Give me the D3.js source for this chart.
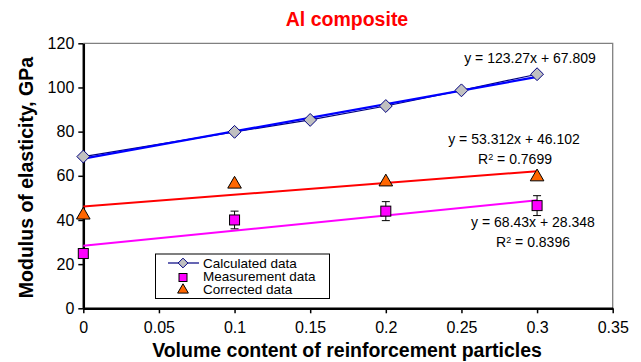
<!DOCTYPE html>
<html>
<head>
<meta charset="utf-8">
<script src="https://cdn.jsdelivr.net/npm/d3@7"></script>
<style>
  body { margin: 0; background: #fff; }
  text { font-family: Arial, "Liberation Sans", sans-serif; }
</style>
</head>
<body>
<div id="chart-area"></div>
<script>
// data
var fractions = [0, 0.1, 0.15, 0.2, 0.25, 0.3];
var calculated = [68.7, 79.9, 85.3, 91.6, 98.7, 106.0];

var measFractions = [0, 0.1, 0.2, 0.3];
var measured = [24.8, 40.0, 44.0, 46.5];
var measError = [2.0, 4.0, 4.3, 4.5];

var corrected = [42.2, 56.2, 57.2, 59.5];

var xTicks = [0, 0.05, 0.1, 0.15, 0.2, 0.25, 0.3, 0.35];
var yTicks = [0, 20, 40, 60, 80, 100, 120];

// trendlines: [slope, intercept]
var trendCalc = [123.27, 67.809];
var trendCorr = [53.312, 46.102];
var trendMeas = [68.43, 28.348];

var W = 641, H = 362;
var margin = {left: 83.3, right: 28.3, top: 43.3, bottom: 53.7};
var width = W - margin.left - margin.right;
var height = H - margin.top - margin.bottom;

var svg = d3.select("#chart-area").append("svg")
    .attr("width", W)
    .attr("height", H);

var g = svg.append("g")
    .attr("transform", "translate(" + margin.left + "," + margin.top + ")");

var x = d3.scaleLinear().domain([0, 0.35]).range([0, width]);
var y = d3.scaleLinear().domain([0, 120]).range([height, 0]);

// frame (top and right in grey)
g.append("path")
  .attr("d", "M0,0H" + width + "V" + height)
  .attr("fill", "none")
  .attr("stroke", "#808080")
  .attr("stroke-width", 1.3);

// X axis
var xAxis = g.append("g")
  .attr("transform", "translate(0," + height + ")")
  .call(d3.axisBottom(x).tickValues(xTicks).tickSize(5).tickSizeOuter(0)
    .tickFormat(d => d3.format("")(+d.toFixed(2))));
xAxis.select(".domain").attr("stroke-width", 2.5);
xAxis.selectAll(".tick line").attr("stroke-width", 1.5);
xAxis.selectAll("text").attr("font-size", "16px").attr("fill", "#000").attr("dy", "1.05em")
  .attr("font-family", "Arial, 'Liberation Sans', sans-serif");

// Y axis
var yAxis = g.append("g")
  .call(d3.axisLeft(y).tickValues(yTicks).tickSize(5).tickSizeOuter(0));
yAxis.select(".domain").attr("stroke-width", 2.5);
yAxis.selectAll(".tick line").attr("stroke-width", 1.5);
yAxis.selectAll("text").attr("font-size", "16px").attr("fill", "#000").attr("x", -9)
  .attr("font-family", "Arial, 'Liberation Sans', sans-serif");

// trendlines
function trend(t, color, w) {
  g.append("line")
    .attr("x1", x(0)).attr("y1", y(t[1]))
    .attr("x2", x(0.3)).attr("y2", y(t[0] * 0.3 + t[1]))
    .attr("stroke", color)
    .attr("stroke-width", w);
}
trend(trendCorr, "#ff0000", 2);
trend(trendMeas, "#ff00ff", 2);

// calculated data line
var line = d3.line()
  .x((d, i) => x(fractions[i]))
  .y(d => y(d));

g.append("path")
  .datum(calculated)
  .attr("d", line)
  .attr("fill", "none")
  .attr("stroke", "#000080")
  .attr("stroke-width", 1.2);

trend(trendCalc, "#0000ff", 2.2);

// diamonds
var diamond = d3.symbol().type(d3.symbolDiamond2).size(105);
g.selectAll(".calc")
  .data(calculated)
  .enter().append("path")
    .attr("class", "calc")
    .attr("d", diamond)
    .attr("transform", (d, i) => "translate(" + x(fractions[i]) + "," + y(d) + ")")
    .attr("fill", "#c0c0c0")
    .attr("stroke", "#000080")
    .attr("stroke-width", 1);

// error bars
var eb = g.selectAll(".err")
  .data(measured)
  .enter().append("g")
    .attr("class", "err");
eb.append("line")
  .attr("x1", (d, i) => x(measFractions[i]))
  .attr("x2", (d, i) => x(measFractions[i]))
  .attr("y1", (d, i) => y(d + measError[i]))
  .attr("y2", (d, i) => y(d - measError[i]))
  .attr("stroke", "#000").attr("stroke-width", 1);
[1, -1].forEach(s => {
  eb.append("line")
    .attr("x1", (d, i) => x(measFractions[i]) - 4)
    .attr("x2", (d, i) => x(measFractions[i]) + 4)
    .attr("y1", (d, i) => y(d + s * measError[i]))
    .attr("y2", (d, i) => y(d + s * measError[i]))
    .attr("stroke", "#000").attr("stroke-width", 1);
});

// squares
g.selectAll(".meas")
  .data(measured)
  .enter().append("rect")
    .attr("class", "meas")
    .attr("x", (d, i) => x(measFractions[i]) - 5)
    .attr("y", d => y(d) - 5)
    .attr("width", 10)
    .attr("height", 10)
    .attr("fill", "#ff00ff")
    .attr("stroke", "#000")
    .attr("stroke-width", 1);

// triangles
var tri = d3.symbol().type(d3.symbolTriangle).size(80);
g.selectAll(".corr")
  .data(corrected)
  .enter().append("path")
    .attr("class", "corr")
    .attr("d", tri)
    .attr("transform", (d, i) => "translate(" + x(measFractions[i]) + "," + y(d) + ")")
    .attr("fill", "#ff6600")
    .attr("stroke", "#000")
    .attr("stroke-width", 1);

// equation labels
function label(tx, ty, str, sup) {
  var t = svg.append("text")
    .attr("x", tx).attr("y", ty)
    .attr("text-anchor", "middle")
    .attr("font-size", "14px")
    .attr("fill", "#000");
  if (sup) {
    t.append("tspan").text("R");
    t.append("tspan").attr("font-size", "9px").attr("dy", "-0.45em").text("2");
    t.append("tspan").attr("dy", "0.3em").text(" = " + str);
  } else {
    t.text(str);
  }
}
label(530, 63, "y = 123.27x + 67.809");
label(514, 144, "y = 53.312x + 46.102");
label(515, 164, "0.7699", true);
label(533, 227, "y = 68.43x + 28.348");
label(533, 247, "0.8396", true);

// legend
var lg = svg.append("g");
lg.append("rect")
  .attr("x", 155.5).attr("y", 254)
  .attr("width", 174).attr("height", 44.5)
  .attr("fill", "#fff")
  .attr("stroke", "#000")
  .attr("stroke-width", 1);
lg.append("line")
  .attr("x1", 168).attr("x2", 199).attr("y1", 263).attr("y2", 263)
  .attr("stroke", "#000080").attr("stroke-width", 1.2);
lg.append("path")
  .attr("d", d3.symbol().type(d3.symbolDiamond2).size(60))
  .attr("transform", "translate(183,263)")
  .attr("fill", "#c0c0c0").attr("stroke", "#000080");
lg.append("rect")
  .attr("x", 179).attr("y", 273.5).attr("width", 8).attr("height", 8)
  .attr("fill", "#ff00ff").attr("stroke", "#000");
lg.append("path")
  .attr("d", d3.symbol().type(d3.symbolTriangle).size(50))
  .attr("transform", "translate(183,290)")
  .attr("fill", "#ff6600").attr("stroke", "#000");
["Calculated data", "Measurement data", "Corrected data"].forEach((s, i) => {
  lg.append("text")
    .attr("x", 203).attr("y", 267.5 + i * 13)
    .attr("font-size", "13.5px")
    .text(s);
});

// title
svg.append("text")
  .attr("x", 347).attr("y", 26)
  .attr("text-anchor", "middle")
  .attr("font-size", "19.5px")
  .attr("font-weight", "bold")
  .attr("fill", "#ff0000")
  .text("Al composite");

// X label
svg.append("text")
  .attr("x", 347).attr("y", 356.5)
  .attr("text-anchor", "middle")
  .attr("font-size", "19.5px")
  .attr("font-weight", "bold")
  .text("Volume content of reinforcement particles");

// Y label
svg.append("text")
  .attr("transform", "translate(33," + 177.5 + ") rotate(-90)")
  .attr("text-anchor", "middle")
  .attr("font-size", "19.5px")
  .attr("font-weight", "bold")
  .text("Modulus of elasticity, GPa");
</script>
</body>
</html>
